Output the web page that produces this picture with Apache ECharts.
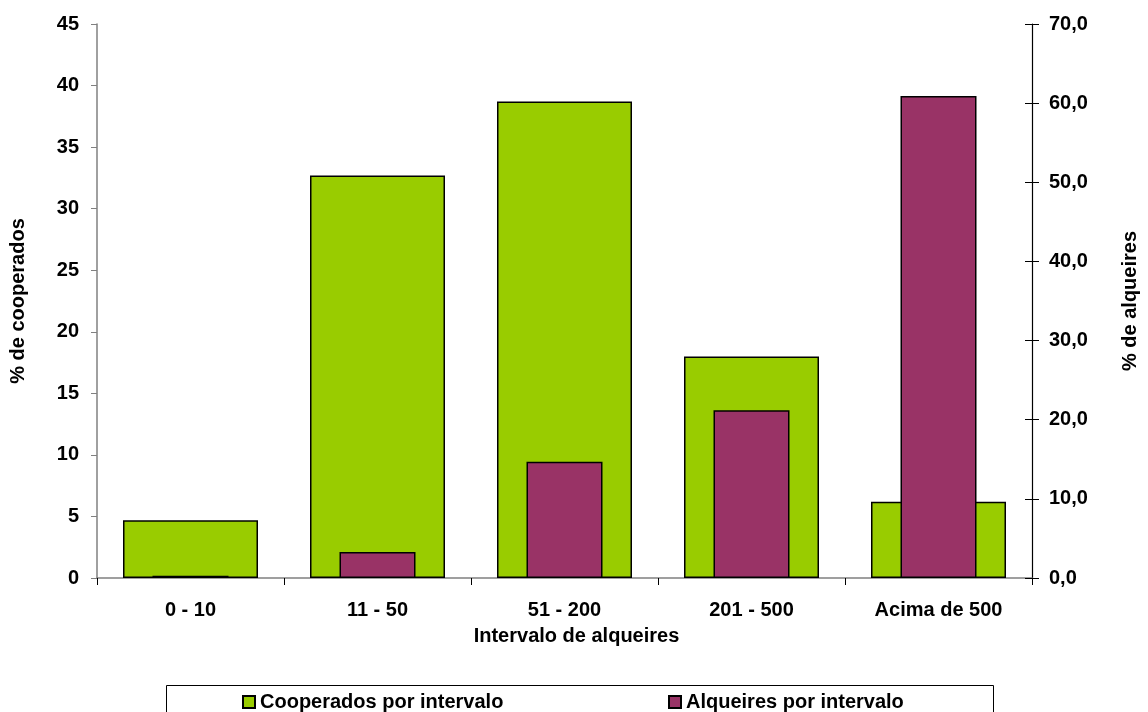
<!DOCTYPE html>
<html>
<head>
<meta charset="utf-8">
<script src="https://cdn.jsdelivr.net/npm/echarts@6/dist/echarts.min.js"></script>
<style>
  html, body { margin: 0; padding: 0; background: #fff; }
  #chart { width: 1148px; height: 712px; }
</style>
</head>
<body>
<div id="chart"></div>
<script>
// Land-size intervals (alqueires)
const categories = ['0 - 10', '11 - 50', '51 - 200', '201 - 500', 'Acima de 500'];
// % of members in each interval (left axis)
const cooperados = [4.7, 32.7, 38.7, 18.0, 6.2];
// % of total land in each interval (right axis)
const alqueires = [0.3, 3.3, 14.7, 21.2, 60.9];
// Axis tick values
const leftTicks = { min: 0, max: 45, interval: 5 };
const rightTicks = { min: 0, max: 70, interval: 10 };

const FONT = 'Arial, "Liberation Sans", sans-serif';
const GREEN = '#99cc00';
const PURPLE = '#993366';
const labelStyle = { color: '#000', fontWeight: 'bold', fontSize: 20, fontFamily: FONT };
const commaFmt = v => v.toFixed(1).replace('.', ',');

const chart = echarts.init(document.getElementById('chart'), null, { renderer: 'canvas' });

chart.setOption({
  animation: false,
  backgroundColor: '#fff',
  textStyle: { fontFamily: FONT },
  grid: { left: 97, right: 114, top: 24, bottom: 134, containLabel: false },
  xAxis: [
    {
      type: 'category',
      data: categories,
      axisLine: { lineStyle: { color: '#808080', width: 1.5 } },
      axisTick: { show: true, length: 7, lineStyle: { color: '#000' } },
      axisLabel: Object.assign({ margin: 22 }, labelStyle),
      name: 'Intervalo de alqueires',
      nameLocation: 'middle',
      nameGap: 48,
      nameTextStyle: Object.assign({ padding: [0, 0, 0, 24] }, labelStyle)
    },
    {
      type: 'category',
      data: categories,
      show: false
    }
  ],
  yAxis: [
    {
      type: 'value',
      min: leftTicks.min, max: leftTicks.max, interval: leftTicks.interval,
      position: 'left',
      axisLine: { show: true, lineStyle: { color: '#808080', width: 1.5 } },
      axisTick: { show: true, length: 6, lineStyle: { color: '#808080' } },
      splitLine: { show: false },
      axisLabel: Object.assign({ margin: 18 }, labelStyle),
      name: '% de cooperados',
      nameLocation: 'middle',
      nameGap: 69,
      nameRotate: 90,
      nameTextStyle: labelStyle
    },
    {
      type: 'value',
      min: rightTicks.min, max: rightTicks.max, interval: rightTicks.interval,
      position: 'right',
      axisLine: { show: true, lineStyle: { color: '#000', width: 1.2 } },
      axisTick: { show: true, length: 7, lineStyle: { color: '#000' } },
      splitLine: { show: false },
      axisLabel: Object.assign({ margin: 17, formatter: commaFmt }, labelStyle),
      name: '% de alqueires',
      nameLocation: 'middle',
      nameGap: 88,
      nameRotate: 90,
      nameTextStyle: labelStyle
    },
    {
      // inner half of the crossing ticks on the right axis
      type: 'value',
      min: rightTicks.min, max: rightTicks.max, interval: rightTicks.interval,
      position: 'right',
      axisLine: { show: false },
      axisTick: { show: true, inside: true, length: 7, lineStyle: { color: '#000' } },
      axisLabel: { show: false },
      splitLine: { show: false }
    }
  ],
  legend: [
    {
      data: ['Cooperados por intervalo'],
      left: 237, top: 687,
      icon: 'rect',
      itemWidth: 12, itemHeight: 12,
      textStyle: { color: '#000', fontWeight: 'bold', fontSize: 20, fontFamily: FONT }
    },
    {
      data: ['Alqueires por intervalo'],
      left: 663, top: 687,
      icon: 'rect',
      itemWidth: 12, itemHeight: 12,
      textStyle: { color: '#000', fontWeight: 'bold', fontSize: 20, fontFamily: FONT }
    }
  ],
  graphic: [
    {
      type: 'rect',
      shape: { x: 166.5, y: 685.5, width: 827, height: 40 },
      style: { fill: 'none', stroke: '#000', lineWidth: 1 },
      z: 0
    }
  ],
  series: [
    {
      name: 'Cooperados por intervalo',
      type: 'bar',
      xAxisIndex: 0,
      yAxisIndex: 0,
      data: cooperados,
      barWidth: 135,
      itemStyle: { color: GREEN, borderColor: '#000', borderWidth: 1.5 },
      z: 2
    },
    {
      name: 'Alqueires por intervalo',
      type: 'bar',
      xAxisIndex: 1,
      yAxisIndex: 1,
      data: alqueires,
      barWidth: 76,
      itemStyle: { color: PURPLE, borderColor: '#000', borderWidth: 1.5 },
      z: 3
    }
  ]
});
</script>
</body>
</html>
